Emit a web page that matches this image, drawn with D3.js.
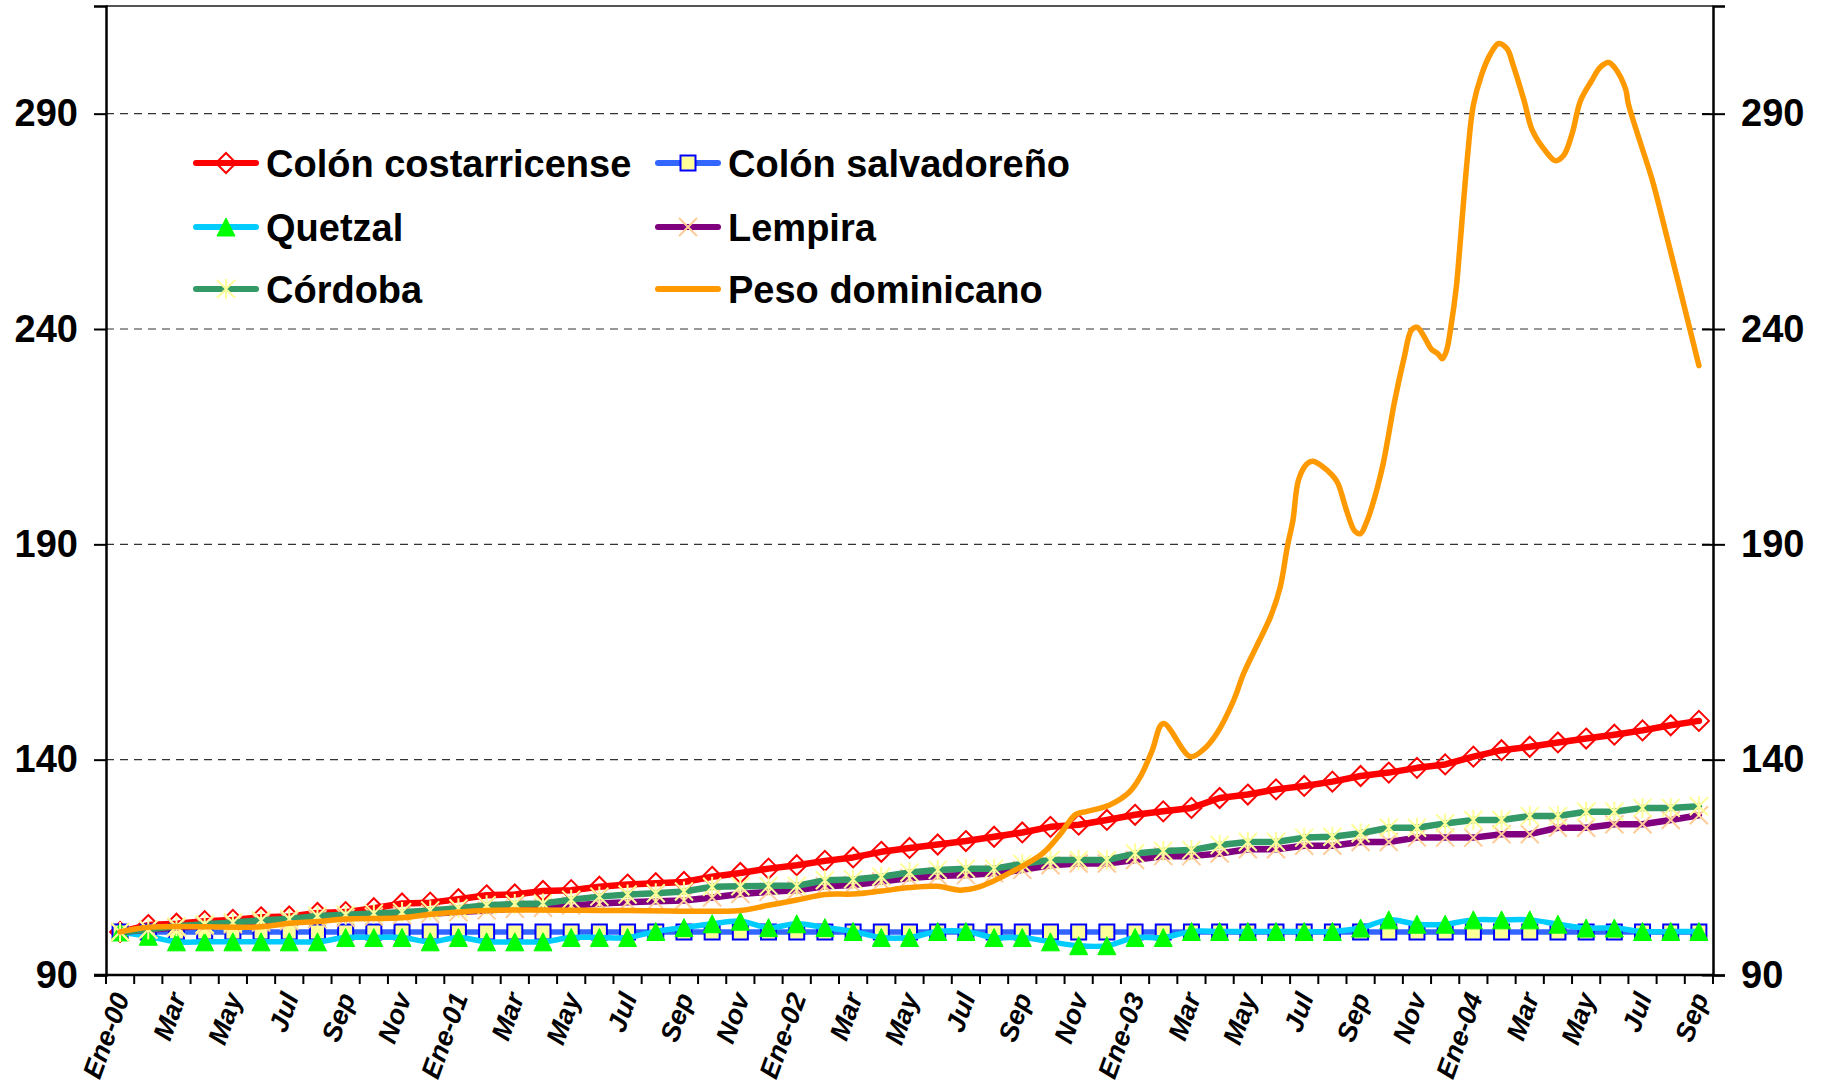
<!DOCTYPE html>
<html>
<head>
    <meta charset="utf-8">
    <script src="https://d3js.org/d3.v7.min.js"></script>
    <style>
        body { margin: 0; background: #fff; }
        text { font-family: "Liberation Sans", Arial, sans-serif; font-weight: bold; }
    </style>
</head>
<body>
    <svg width="1825" height="1086"></svg>

    <script>
        // etiquetas del eje x (una de cada dos, meses ene-2000 a sep-2004)
        var tickLabels = ["Ene-00", "Mar", "May", "Jul", "Sep", "Nov",
                          "Ene-01", "Mar", "May", "Jul", "Sep", "Nov",
                          "Ene-02", "Mar", "May", "Jul", "Sep", "Nov",
                          "Ene-03", "Mar", "May", "Jul", "Sep", "Nov",
                          "Ene-04", "Mar", "May", "Jul", "Sep"];
        var nMonths = 57;
        var yTicks = [90, 140, 190, 240, 290];

        // índices (ene-2000 = 100)
        var colonCR = [100.0, 101.6, 101.9, 102.5, 102.8, 103.4, 103.6, 104.4, 104.6, 105.5,
                       106.6, 106.8, 107.6, 108.5, 108.7, 109.5, 109.7, 110.5, 111.0, 111.3,
                       111.6, 112.8, 113.7, 114.7, 115.5, 116.5, 117.3, 118.6, 119.5, 120.3,
                       121.1, 122.1, 123.1, 124.4, 124.9, 126.0, 127.2, 128.0, 128.8, 131.1,
                       131.9, 133.1, 133.9, 134.9, 136.2, 137.0, 138.1, 138.9, 140.7, 142.2,
                       143.0, 144.0, 144.9, 145.8, 146.8, 148.0, 149.0];
        var colonSV = [100, 100, 100, 100, 100, 100, 100, 100, 100, 100,
                       100, 100, 100, 100, 100, 100, 100, 100, 100, 100,
                       100, 100, 100, 100, 100, 100, 100, 100, 100, 100,
                       100, 100, 100, 100, 100, 100, 100, 100, 100, 100,
                       100, 100, 100, 100, 100, 100, 100, 100, 100, 100,
                       100, 100, 100, 100, 100, 100, 100];
        var quetzal = [100.0, 99.0, 97.7, 97.7, 97.7, 97.7, 97.7, 97.7, 98.7, 98.7,
                       98.7, 97.7, 98.7, 97.7, 97.7, 97.7, 98.7, 98.7, 98.7, 100.1,
                       101.0, 101.9, 102.5, 101.0, 101.9, 101.0, 100.1, 98.7, 98.7, 100.1,
                       100.1, 98.7, 98.7, 97.7, 96.8, 96.8, 98.7, 98.7, 100.1, 100.1,
                       100.1, 100.1, 100.1, 100.1, 100.9, 102.8, 101.8, 101.8, 102.8, 102.8,
                       102.8, 101.8, 100.9, 100.9, 100.1, 100.1, 100.1];
        var lempira = [100.0, 100.5, 101.0, 101.4, 101.8, 102.2, 102.5, 103.0, 103.3, 103.6,
                       103.9, 104.2, 104.6, 105.0, 105.4, 105.6, 106.1, 106.6, 106.9, 107.1,
                       107.3, 108.0, 108.8, 109.3, 109.7, 110.6, 110.9, 111.7, 112.5, 113.0,
                       113.2, 113.6, 114.4, 115.5, 115.9, 115.9, 116.7, 117.6, 117.6, 118.2,
                       119.2, 119.2, 120.0, 120.0, 120.9, 120.9, 121.9, 121.9, 121.9, 122.7,
                       122.7, 124.2, 124.2, 125.0, 125.0, 126.0, 127.1];
        var cordoba = [100.0, 100.6, 101.3, 101.8, 102.2, 102.7, 103.0, 103.7, 104.0, 104.3,
                       104.6, 105.0, 105.5, 106.2, 106.5, 106.6, 107.5, 108.2, 108.7, 109.0,
                       109.4, 110.5, 110.6, 110.7, 110.7, 112.0, 112.2, 112.8, 113.8, 114.4,
                       114.7, 114.7, 115.8, 116.7, 116.7, 116.7, 118.2, 118.8, 119.0, 120.2,
                       120.9, 120.9, 121.9, 122.1, 122.9, 124.2, 124.2, 125.2, 126.0, 126.0,
                       126.9, 126.9, 127.9, 127.9, 128.8, 128.8, 129.2];

        // peso dominicano: serie de mayor frecuencia (posición en meses desde ene-2000)
        var pesoT = [0, 1, 5, 6, 7, 8, 10, 11, 13, 18, 22, 23, 24, 25, 26, 27, 28, 29, 29.8, 30.5,
                     31.7, 32.7, 33.3, 33.9, 34.3, 35.1, 35.8, 36.2, 36.6, 37.0, 37.96, 38.4, 38.9, 39.5,
                     39.85, 40.3, 40.8, 41.15, 41.4, 41.6, 41.8, 42.1, 42.3, 42.6, 43.0, 43.2, 43.5, 43.8,
                     44.0, 44.2, 44.4, 44.8, 45.0, 45.2, 45.55, 45.8, 46.0, 46.3, 46.5, 46.75, 46.9, 47.05,
                     47.2, 47.4, 47.5, 47.8, 48.0, 48.3, 48.6, 48.9, 49.2, 49.4, 49.8, 50.1, 50.6, 50.9,
                     51.2, 51.5, 51.8, 52.2, 52.5, 52.8, 53.0, 53.4, 53.5, 54.35, 54.6, 56.0];
        var pesoV = [100.0, 101.1, 101.2, 102.0, 102.4, 103.0, 103.3, 104.1, 105.0, 105.0, 105.0, 106.2, 107.4, 108.7, 108.8, 109.5, 110.3, 110.6, 109.7, 110.5,
                     114.2, 118.1, 122.3, 127.3, 128.0, 129.5, 132.5, 136.2, 142.0, 148.4, 140.7, 142.2, 146.1, 153.8,
                     160.0, 166.2, 173.1, 180.1, 189.4, 195.6, 205.0, 208.7, 209.3, 208.3, 206.0, 204.1, 197.9, 193.0,
                     192.5, 195.0, 198.7, 208.7, 215.7, 223.0, 233.5, 239.7, 240.4, 237.7, 235.4, 234.2, 233.1, 235.0,
                     240.4, 250.0, 257.4, 280.6, 292.0, 299.2, 303.8, 306.3, 305.0, 301.5, 293.0, 286.0, 281.0, 279.1,
                     280.3, 285.3, 293.0, 297.7, 300.8, 301.9, 300.8, 295.7, 292.2, 274.5, 268.3, 231.5];

        var svg = d3.select("svg");
        var plotL = 106, plotR = 1713, plotT = 6, plotB = 975;

        var x = d3.scaleLinear().domain([-0.5, nMonths - 0.5]).range([plotL, plotR]);
        var y = d3.scaleLinear().domain([90, 315]).range([plotB, plotT]);

        // rejilla punteada
        svg.selectAll(".grid")
            .data(yTicks.slice(1))
            .enter().append("line")
            .attr("x1", plotL).attr("x2", plotR)
            .attr("y1", function(d) { return y(d); })
            .attr("y2", function(d) { return y(d); })
            .attr("stroke", "#333")
            .attr("stroke-width", 1.2)
            .attr("stroke-dasharray", "8,6");

        // borde superior
        svg.append("line")
            .attr("x1", plotL).attr("x2", plotR).attr("y1", plotT).attr("y2", plotT)
            .attr("stroke", "#555").attr("stroke-width", 2);

        // ejes y (izquierda y derecha)
        var yLeft = d3.axisLeft(y).tickValues(yTicks).tickSize(12).tickPadding(16);
        var yRight = d3.axisRight(y).tickValues(yTicks).tickSize(12).tickPadding(16);

        var gl = svg.append("g").attr("transform", "translate(" + plotL + ",0)").call(yLeft);
        var gr = svg.append("g").attr("transform", "translate(" + plotR + ",0)").call(yRight);
        gr.selectAll(".tick line").attr("x1", -11);
        [gl, gr].forEach(function(g) {
            g.attr("font-family", "'Liberation Sans', Arial, sans-serif").attr("font-weight", "bold");
            g.select(".domain").attr("stroke", "#000").attr("stroke-width", 2.5);
            g.selectAll(".tick line").attr("stroke", "#000").attr("stroke-width", 2);
            g.selectAll(".tick text").attr("font-size", 38).attr("fill", "#000")
                .style("font-weight", "bold");
        });

        // eje x: marcas entre categorías
        var xAxis = svg.append("g");
        xAxis.append("line")
            .attr("x1", plotL - 12).attr("x2", plotR)
            .attr("y1", plotB).attr("y2", plotB)
            .attr("stroke", "#000").attr("stroke-width", 2.5);
        xAxis.selectAll(".xt")
            .data(d3.range(nMonths + 1))
            .enter().append("line")
            .attr("x1", function(d) { return x(d - 0.5); })
            .attr("x2", function(d) { return x(d - 0.5); })
            .attr("y1", plotB).attr("y2", plotB + 9)
            .attr("stroke", "#000").attr("stroke-width", 2);
        xAxis.selectAll(".xl")
            .data(tickLabels)
            .enter().append("text")
            .attr("transform", function(d, i) {
                return "translate(" + (x(i * 2) + 1) + "," + (plotB + 19) + ") rotate(-70)";
            })
            .attr("text-anchor", "end")
            .attr("dy", "0.35em")
            .attr("font-size", 27)
            .attr("font-style", "italic")
            .text(function(d) { return d; });

        // marcadores
        function marker(type, r) {
            if (type === "diamond") return "M0," + (-r) + "L" + r + ",0L0," + r + "L" + (-r) + ",0Z";
            if (type === "square") return "M" + (-r) + "," + (-r) + "H" + r + "V" + r + "H" + (-r) + "Z";
            if (type === "triangle") return "M0," + (-r) + "L" + r + "," + r + "L" + (-r) + "," + r + "Z";
            if (type === "x") return "M" + (-r) + "," + (-r) + "L" + r + "," + r + "M" + (-r) + "," + r + "L" + r + "," + (-r);
            if (type === "star") return "M" + (-r) + "," + (-r) + "L" + r + "," + r + "M" + (-r) + "," + r + "L" + r + "," + (-r) + "M0," + (-r - 1) + "L0," + (r + 1);
            return "";
        }

        var series = [
            { name: "Colón costarricense", values: colonCR, line: "#FF0000", width: 6.5, marker: "diamond", r: 10, mFill: "none", mStroke: "#FF0000", mWidth: 2 },
            { name: "Colón salvadoreño", values: colonSV, line: "#3366FF", width: 5.5, marker: "square", r: 7.5, mFill: "#FFFF99", mStroke: "#0000FF", mWidth: 2 },
            { name: "Quetzal", values: quetzal, line: "#00CCFF", width: 5.5, marker: "triangle", r: 9, mFill: "#00FF00", mStroke: "#00FF00", mWidth: 1, smooth: true },
            { name: "Lempira", values: lempira, line: "#800080", width: 6.5, marker: "x", r: 9, mFill: "none", mStroke: "#FFCC99", mWidth: 2 },
            { name: "Córdoba", values: cordoba, line: "#339966", width: 6.5, marker: "star", r: 9, mFill: "none", mStroke: "#FFFF99", mWidth: 2 }
        ];

        var lineLin = d3.line()
            .x(function(d, i) { return x(i); })
            .y(function(d) { return y(d); });
        var lineSmooth = d3.line()
            .x(function(d, i) { return x(i); })
            .y(function(d) { return y(d); })
            .curve(d3.curveCatmullRom.alpha(0.5));

        series.forEach(function(s) {
            var g = svg.append("g");
            g.append("path")
                .datum(s.values)
                .attr("fill", "none")
                .attr("stroke", s.line)
                .attr("stroke-width", s.width)
                .attr("stroke-linejoin", "round")
                .attr("stroke-linecap", "round")
                .attr("d", s.smooth ? lineSmooth : lineLin);
            g.selectAll(".m")
                .data(s.values)
                .enter().append("path")
                .attr("transform", function(d, i) { return "translate(" + x(i) + "," + y(d) + ")"; })
                .attr("d", marker(s.marker, s.r))
                .attr("fill", s.mFill)
                .attr("stroke", s.mStroke)
                .attr("stroke-width", s.mWidth);
        });

        // peso dominicano (eje secundario, línea suavizada)
        var pesoLine = d3.line()
            .x(function(d) { return x(d[0]); })
            .y(function(d) { return y(d[1]); })
            .curve(d3.curveCatmullRom.alpha(0.5));
        svg.append("path")
            .datum(d3.zip(pesoT, pesoV))
            .attr("fill", "none")
            .attr("stroke", "#FF9900")
            .attr("stroke-width", 5.5)
            .attr("stroke-linejoin", "round")
            .attr("stroke-linecap", "round")
            .attr("d", pesoLine);

        // leyenda
        var legendItems = [
            { s: series[0], col: 0, row: 0 },
            { s: series[1], col: 1, row: 0 },
            { s: series[2], col: 0, row: 1 },
            { s: series[3], col: 1, row: 1 },
            { s: series[4], col: 0, row: 2 },
            { s: { name: "Peso dominicano", line: "#FF9900", width: 6, marker: null }, col: 1, row: 2 }
        ];
        var colX = [196, 658], rowY = [163, 227, 289];
        legendItems.forEach(function(it) {
            var lx = colX[it.col], ly = rowY[it.row], s = it.s;
            var g = svg.append("g").attr("transform", "translate(" + lx + "," + ly + ")");
            g.append("line")
                .attr("x1", 0).attr("x2", 60).attr("y1", 0).attr("y2", 0)
                .attr("stroke", s.line).attr("stroke-width", 6).attr("stroke-linecap", "round");
            if (s.marker) {
                g.append("path")
                    .attr("transform", "translate(30,0)")
                    .attr("d", marker(s.marker, s.r))
                    .attr("fill", s.mFill)
                    .attr("stroke", s.mStroke)
                    .attr("stroke-width", s.mWidth);
            }
            g.append("text")
                .attr("x", 70).attr("dy", "0.36em")
                .attr("font-size", 38)
                .text(s.name);
        });
    </script>
</body>
</html>
